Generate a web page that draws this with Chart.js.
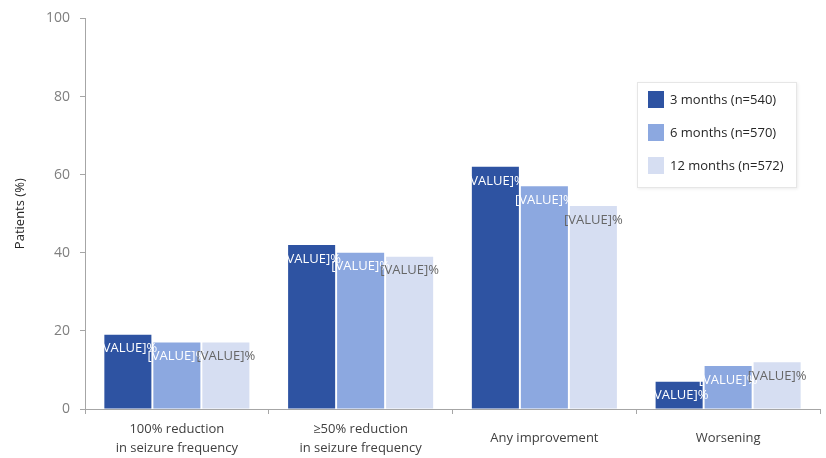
<!DOCTYPE html>
<html>
<head>
<meta charset="utf-8">
<script src="https://cdn.jsdelivr.net/npm/chart.js@4.4.0/dist/chart.umd.min.js"></script>
<style>
    html, body { margin: 0; padding: 0; background: #fff; }
    #wrap { position: relative; width: 826px; height: 458px; }
    #legend {
        position: absolute; left: 637px; top: 82px; width: 158px; height: 104px;
        border: 1px solid #e6e6e6; box-shadow: 1px 1px 3px rgba(0,0,0,0.08);
        background: #fff; font-family: "Open Sans", "Liberation Sans", sans-serif;
        font-size: 13px; color: #262626;
    }
    #legend .item { position: absolute; left: 10px; height: 17px; line-height: 17px; white-space: nowrap; }
    #legend .sw { display: inline-block; width: 16px; height: 17px; vertical-align: top; margin-right: 6px; }
</style>
</head>
<body>
<div id="wrap">
    <canvas id="chart" width="826" height="458"></canvas>
    <div id="legend"></div>
</div>
<script>
const categories = [
    ['100% reduction', 'in seizure frequency'],
    ['\u226550% reduction', 'in seizure frequency'],
    'Any improvement',
    'Worsening'
];
const seriesNames = ['3 months (n=540)', '6 months (n=570)', '12 months (n=572)'];
const months3 = [19, 42, 62, 7];
const months6 = [17, 40, 57, 11];
const months12 = [17, 39, 52, 12];
const yTicks = [0, 20, 40, 60, 80, 100];

const colors = ['#2e53a2', '#8ca8e0', '#d6def2'];
const labelColors = ['#ffffff', '#ffffff', '#666666'];
const FONT = '"Open Sans", "Liberation Sans", sans-serif';

// draws the (broken) "[VALUE]%" data labels just under each bar top
const valueLabels = {
    id: 'valueLabels',
    afterDatasetsDraw(chart) {
        const ctx = chart.ctx;
        ctx.save();
        ctx.font = '13px ' + FONT;
        ctx.textAlign = 'center';
        ctx.textBaseline = 'middle';
        chart.data.datasets.forEach((ds, i) => {
            chart.getDatasetMeta(i).data.forEach(bar => {
                ctx.fillStyle = labelColors[i];
                ctx.fillText('[VALUE]%', bar.x, bar.y + 14);
            });
        });
        ctx.restore();
    }
};

const datasets = [months3, months6, months12].map((vals, i) => ({
    label: seriesNames[i],
    data: vals,
    backgroundColor: colors[i],
    barPercentage: 0.96,
    categoryPercentage: 0.8
}));

const chart = new Chart(document.getElementById('chart'), {
    type: 'bar',
    data: { labels: categories, datasets: datasets },
    options: {
        responsive: false,
        animation: false,
        layout: { padding: { top: 15, right: 6, left: 6, bottom: 0 } },
        plugins: {
            legend: { display: false },
            tooltip: { enabled: false }
        },
        scales: {
            x: {
                offset: true,
                border: { color: '#a6a6a6' },
                grid: { display: true, drawOnChartArea: false, tickLength: 5, color: '#a6a6a6', offset: true },
                ticks: {
                    crossAlign: 'center',
                    color: '#404040',
                    padding: 15,
                    font: { family: FONT, size: 13, lineHeight: 1.45 }
                },
                afterFit(scale) { scale.height = 49; }
            },
            y: {
                min: 0,
                max: 100,
                afterBuildTicks(scale) { scale.ticks = yTicks.map(v => ({ value: v })); },
                border: { color: '#a6a6a6' },
                grid: { display: true, drawOnChartArea: false, tickLength: 5, color: '#a6a6a6' },
                ticks: {
                    color: '#7f7f7f',
                    padding: 10,
                    font: { family: FONT, size: 14 }
                },
                title: {
                    display: true,
                    text: 'Patients (%)',
                    color: '#262626',
                    padding: { top: 6, bottom: 4 },
                    font: { family: FONT, size: 13 }
                },
                afterFit(scale) { scale.width = 79; }
            }
        }
    },
    plugins: [valueLabels]
});

// legend built from the same series arrays
const legend = document.getElementById('legend');
seriesNames.forEach((name, i) => {
    const item = document.createElement('div');
    item.className = 'item';
    item.style.top = (8 + i * 33) + 'px';
    item.innerHTML = '<span class="sw" style="background:' + colors[i] + '"></span>' + name;
    legend.appendChild(item);
});
</script>
</body>
</html>
